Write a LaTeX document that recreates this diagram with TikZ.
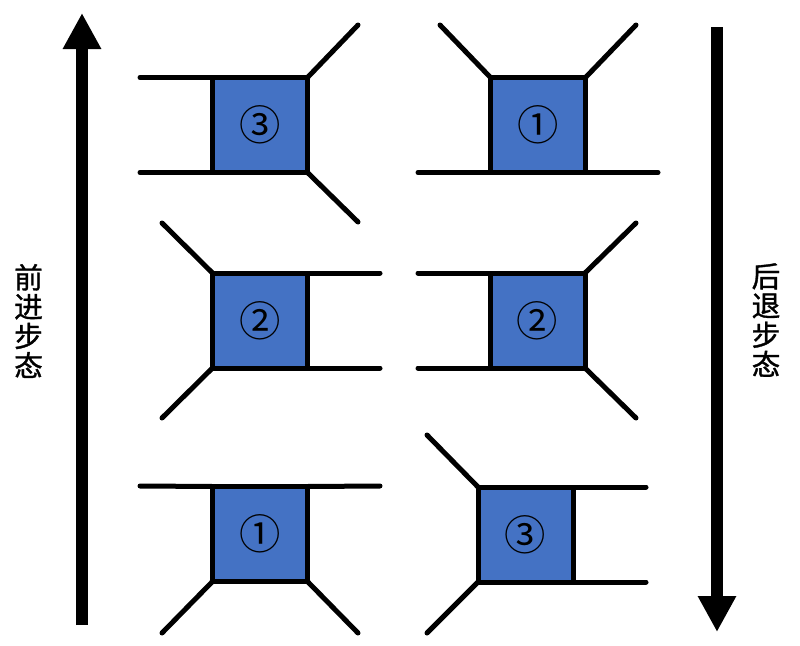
\documentclass[tikz,border=0pt]{standalone}
\usepackage{fontspec}
\newfontfamily\cjk{Noto Sans CJK SC}
\newfontfamily\cjkheavy[FakeBold=1.2]{Noto Sans CJK SC}
\usetikzlibrary{arrows.meta}
\definecolor{bodyBlue}{RGB}{68,114,196}

\begin{document}
\begin{tikzpicture}
[x=0.75pt,y=-0.75pt,%
  legDecorate/.style={line width=3.75pt,line cap=round},%
  bodyDecorate/.style={shape=rectangle,draw,fill=bodyBlue,line width=3.75pt,
    minimum size=71.25pt,inner sep=0pt,outer sep=0pt,
    font=\cjk\fontsize{31pt}{31pt}\selectfont},%
  arrowDecorate/.style={-{Triangle[width=27pt,length=27pt]},line width=9pt},%
  labelDecorate/.style={align=center,inner sep=0pt,
    font=\cjkheavy\fontsize{21.5pt}{22pt}\selectfont}]
\useasboundingbox (0,0) rectangle (800,646);
%% bodies
\foreach \nodename/\x/\y/\num in {
  f3/260/125/③, f2/260/320.5/②, f1/260/534/①,
  b1/538/125/①, b2/537.5/320.5/②, b3/525.5/534.5/③}
{
  \node (\nodename) at (\x,\y) [bodyDecorate] {\num};
}
%% feet
\foreach \nodename/\x/\y in {
  f3a/140/77.5, f3b/140/172.5, f3c/358/25, f3d/358/222,
  b1a/440/25, b1b/636/25, b1c/418/172.5, b1d/658/172.5,
  f2a/162/223, f2b/162/418, f2c/380/273, f2d/380/368,
  b2a/418/273, b2b/418/368, b2c/636/223, b2d/636/418,
  f1a/140/486, f1b/380/486, f1c/162/633, f1d/358/633,
  b3a/427/435, b3b/427/633, b3c/646/487, b3d/646/582}
{
  \coordinate (\nodename) at (\x,\y);
}
%% legs
\path
\foreach \startnode/\endnode in {
  f3.north west/f3a, f3.south west/f3b, f3.north east/f3c, f3.south east/f3d,
  b1.north west/b1a, b1.north east/b1b, b1.south west/b1c, b1.south east/b1d,
  f2.north west/f2a, f2.south west/f2b, f2.north east/f2c, f2.south east/f2d,
  b2.north west/b2a, b2.south west/b2b, b2.north east/b2c, b2.south east/b2d,
  f1.north west/f1a, f1.north east/f1b, f1.south west/f1c, f1.south east/f1d,
  b3.north west/b3a, b3.south west/b3b, b3.north east/b3c, b3.south east/b3d}
{
  (\startnode) edge[legDecorate] (\endnode)
};
%% gait arrows
\coordinate (fwdStart) at (82,625);
\coordinate (fwdEnd) at (82,13);
\coordinate (bwdStart) at (717,27);
\coordinate (bwdEnd) at (717,632);
\draw[arrowDecorate] (fwdStart) -- (fwdEnd);
\draw[arrowDecorate] (bwdStart) -- (bwdEnd);
%% labels
\node (fwdLabel) at (28.5,321) [labelDecorate] {前\\进\\步\\态};
\node (bwdLabel) at (766,320) [labelDecorate] {后\\退\\步\\态};
\end{tikzpicture}
\end{document}
